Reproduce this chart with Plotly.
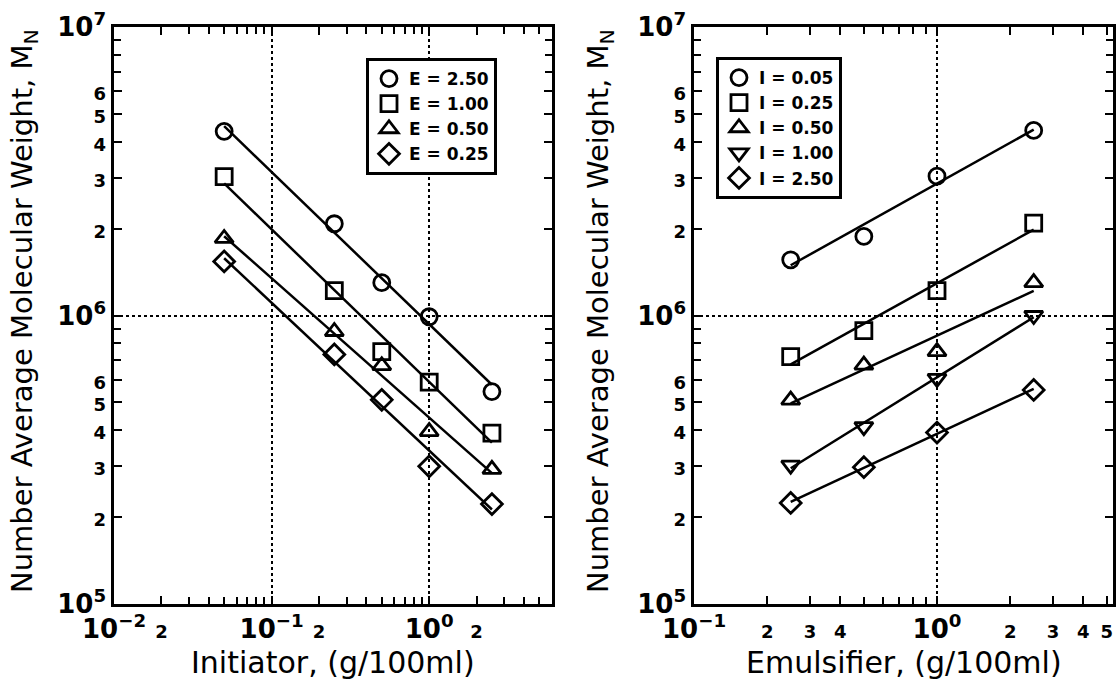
import numpy as np
import plotly.graph_objects as go

# ---- Left panel: Mn versus initiator concentration at fixed emulsifier E ----
initiator = [0.05, 0.25, 0.5, 1.0, 2.5]
mn_e250 = [4.35e6, 2.08e6, 1.30e6, 0.99e6, 5.45e5]
mn_e100 = [3.03e6, 1.22e6, 7.50e5, 5.88e5, 3.91e5]
mn_e050 = [1.85e6, 8.80e5, 6.70e5, 3.96e5, 2.93e5]
mn_e025 = [1.54e6, 7.33e5, 5.10e5, 3.00e5, 2.22e5]
e_names = ["E = 2.50", "E = 1.00", "E = 0.50", "E = 0.25"]

# ---- Right panel: Mn versus emulsifier concentration at fixed initiator I ----
emulsifier = [0.25, 0.5, 1.0, 2.5]
mn_i005 = [1.56e6, 1.88e6, 3.04e6, 4.38e6]
mn_i025 = [7.20e5, 8.86e5, 1.22e6, 2.09e6]
mn_i050 = [5.09e5, 6.73e5, 7.50e5, 1.30e6]
mn_i100 = [3.03e5, 4.12e5, 6.05e5, 1.00e6]
mn_i250 = [2.24e5, 2.98e5, 3.93e5, 5.52e5]
i_names = ["I = 0.05", "I = 0.25", "I = 0.50", "I = 1.00", "I = 2.50"]

# labelled mantissas per decade on each axis
x1_labeled = {-2: [2], -1: [2], 0: [2]}
x2_labeled = {-1: [2, 3, 4], 0: [2, 3, 4, 5]}
y_labeled = {5: [2, 3, 4, 5, 6], 6: [2, 3, 4, 5, 6]}

x_title_left = "Initiator, (g/100ml)"
x_title_right = "Emulsifier, (g/100ml)"
y_title = "Number Average Molecular Weight, M<sub>N</sub>"

left_series = [mn_e250, mn_e100, mn_e050, mn_e025]
left_symbols = ["circle-open", "square-open", "triangle-up-open", "diamond-open"]
right_series = [mn_i005, mn_i025, mn_i050, mn_i100, mn_i250]
right_symbols = ["circle-open", "square-open", "triangle-up-open",
                 "triangle-down-open", "diamond-open"]

W, H = 1118, 684
FONT = "DejaVu Sans"


def px_x(p):
    return p / W


def px_y(p):
    return 1 - p / H


def log_ticks(first_decade, top, labeled):
    """Split 1..9 x 10^d positions into labelled ticks and plain minor ticks."""
    vals, text, minor = [], [], []
    d = first_decade
    while 10.0 ** d <= top * 1.0001:
        for m in range(1, 10):
            v = m * 10.0 ** d
            if v > top * 1.0001:
                break
            if m == 1:
                exp = str(d).replace("-", "\u2212")
                vals.append(v)
                text.append(f"10<sup>{exp}</sup>")
            elif m in labeled.get(d, []):
                vals.append(v)
                text.append(f"<span style='font-size:18px'>{m}</span>")
            else:
                minor.append(v)
        d += 1
    return vals, text, minor


def fit_line(x, y):
    lx, ly = np.log10(x), np.log10(y)
    k, b = np.polyfit(lx, ly, 1)
    xe = np.array([min(x), max(x)])
    return xe, 10 ** (k * np.log10(xe) + b)


fig = go.Figure()

marker_style = dict(size=16, color="black", line=dict(width=2.8, color="black"))

for ys, sym, name in zip(left_series, left_symbols, e_names):
    xe, ye = fit_line(initiator, ys)
    fig.add_trace(go.Scatter(x=xe, y=ye, mode="lines", showlegend=False,
                             line=dict(color="black", width=2.5),
                             xaxis="x", yaxis="y"))
    fig.add_trace(go.Scatter(x=initiator, y=ys, mode="markers", name=name,
                             marker=dict(marker_style, symbol=sym),
                             xaxis="x", yaxis="y", legend="legend"))

for ys, sym, name in zip(right_series, right_symbols, i_names):
    xe, ye = fit_line(emulsifier, ys)
    fig.add_trace(go.Scatter(x=xe, y=ye, mode="lines", showlegend=False,
                             line=dict(color="black", width=2.5),
                             xaxis="x2", yaxis="y2"))
    fig.add_trace(go.Scatter(x=emulsifier, y=ys, mode="markers", name=name,
                             marker=dict(marker_style, symbol=sym),
                             xaxis="x2", yaxis="y2", legend="legend2"))

# empty traces that carry the dotted decade grid overlays
for xa, ya in (("x3", "y3"), ("x4", "y4")):
    fig.add_trace(go.Scatter(x=[], y=[], xaxis=xa, yaxis=ya, showlegend=False))

# plot-area geometry (pixels)
L1, R1 = 114, 552
L2, R2 = 694, 1113
TOP, BOT = 27, 604
x1_range = [-2, -2 + (R1 - L1) / 157.6]
x2_range = [-1, -1 + (R2 - L2) / 243.0]
y_range = [5, 7]
ydom = [px_y(BOT), px_y(TOP)]

xt1_vals, xt1_text, xt1_minor = log_ticks(-2, 10 ** x1_range[1], x1_labeled)
xt2_vals, xt2_text, xt2_minor = log_ticks(-1, 10 ** x2_range[1], x2_labeled)
yt_vals, yt_text, yt_minor = log_ticks(5, 1e7, y_labeled)

frame = dict(showline=True, linecolor="black", linewidth=2.5, mirror="allticks",
             ticks="inside", ticklen=8, tickwidth=2, tickcolor="black",
             showgrid=False, zeroline=False, type="log", automargin=False,
             tickmode="array",
             tickfont=dict(family=FONT, size=26, color="black", weight="bold"))
minor_style = dict(ticks="inside", ticklen=7, tickwidth=2, tickcolor="black",
                   showgrid=False)

overlay = dict(type="log", showgrid=True, gridcolor="black", gridwidth=1.5,
               griddash="dot", showticklabels=False, ticks="", showline=False,
               zeroline=False, automargin=False, tickmode="array")

legend_style = dict(xanchor="left", yanchor="top", bgcolor="white",
                    bordercolor="black", borderwidth=3, tracegroupgap=0,
                    font=dict(family=FONT, size=17, color="black", weight="bold"))

fig.update_layout(
    width=W, height=H,
    margin=dict(l=0, r=0, t=0, b=0, autoexpand=False),
    paper_bgcolor="white", plot_bgcolor="white",
    xaxis=dict(frame, domain=[px_x(L1), px_x(R1)], range=x1_range, anchor="y",
               tickvals=xt1_vals, ticktext=xt1_text,
               minor=dict(minor_style, tickvals=xt1_minor)),
    yaxis=dict(frame, domain=ydom, range=y_range, anchor="x",
               tickvals=yt_vals, ticktext=yt_text,
               minor=dict(minor_style, tickvals=yt_minor)),
    xaxis2=dict(frame, domain=[px_x(L2), px_x(R2)], range=x2_range, anchor="y2",
                tickvals=xt2_vals, ticktext=xt2_text,
                minor=dict(minor_style, tickvals=xt2_minor)),
    yaxis2=dict(frame, domain=ydom, range=y_range, anchor="x2",
                tickvals=yt_vals, ticktext=yt_text,
                minor=dict(minor_style, tickvals=yt_minor)),
    xaxis3=dict(overlay, overlaying="x", anchor="y", range=x1_range,
                tickvals=[0.1, 1.0]),
    yaxis3=dict(overlay, overlaying="y", anchor="x", range=y_range,
                tickvals=[1e6]),
    xaxis4=dict(overlay, overlaying="x2", anchor="y2", range=x2_range,
                tickvals=[1.0]),
    yaxis4=dict(overlay, overlaying="y2", anchor="x2", range=y_range,
                tickvals=[1e6]),
    legend=dict(legend_style, x=px_x(366), y=px_y(58)),
    legend2=dict(legend_style, x=px_x(716), y=px_y(57)),
    showlegend=True,
)

# axis titles placed in paper space
title_x = dict(family=FONT, size=30, color="black")
title_y = dict(family=FONT, size=29, color="black")
for cx, text in (((L1 + R1) / 2, x_title_left), ((L2 + R2) / 2, x_title_right)):
    fig.add_annotation(x=px_x(cx), y=px_y(662), xref="paper", yref="paper",
                       text=text, showarrow=False, font=title_x,
                       xanchor="center", yanchor="middle")
for cx in (24, 600):
    fig.add_annotation(x=px_x(cx), y=px_y(311), xref="paper", yref="paper",
                       text=y_title, showarrow=False, font=title_y, textangle=-90,
                       xanchor="center", yanchor="middle")

fig.write_html("out.html")
